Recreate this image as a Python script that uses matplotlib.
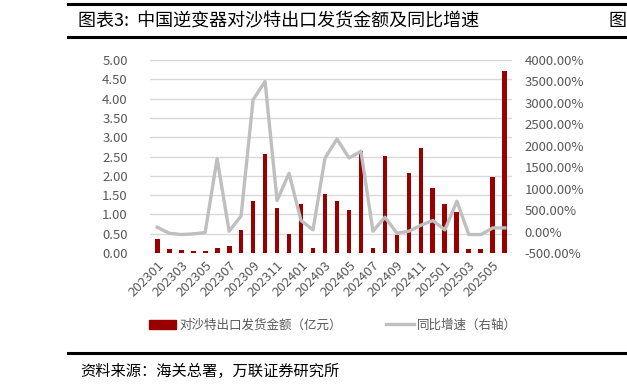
import numpy as np
import matplotlib.pyplot as plt
from matplotlib.patches import Patch
from matplotlib.lines import Line2D

plt.rcParams['font.family'] = ['Noto Sans CJK SC', 'DejaVu Sans']

# 2023-01 .. 2025-06
months = [f"{y}{m:02d}" for y in (2023, 2024, 2025) for m in range(1, 13)][:30]
amount = [0.36, 0.10, 0.09, 0.05, 0.05, 0.14, 0.19, 0.59, 1.35, 2.57,
          1.16, 0.48, 1.26, 0.12, 1.54, 1.36, 1.12, 2.65, 0.14, 2.52,
          0.47, 2.06, 2.71, 1.69, 1.26, 1.07, 0.10, 0.11, 1.97, 4.72]
yoy = [101, -39, -70, -54, -23, 1700, 8, 365, 3075, 3500,
       722, 1359, 256, 39, 1716, 2158, 1716, 1871, 8, 334,
       -39, 8, 148, 256, 39, 707, -70, -70, 85, 85]

red = '#990000'
grey = '#BFBFBF'
txt = '#595959'

fig = plt.figure(figsize=(6.27, 3.89), dpi=100)
ax = fig.add_axes([150 / 627, 1 - 253 / 389, 362 / 627, 193 / 389])
ax2 = ax.twinx()

x = np.arange(len(months))
ax.bar(x, amount, width=0.4, color=red, zorder=3)
ax2.plot(x, yoy, color=grey, lw=2.4, zorder=4)

ax.set_ylim(0, 5)
ax.set_yticks(np.arange(0, 5.01, 0.5))
ax.set_yticklabels([f"{v:.2f}" for v in np.arange(0, 5.01, 0.5)])
ax.grid(axis='y', color='#D9D9D9', lw=1, zorder=0)
ax.set_axisbelow(True)
ax.set_xlim(-0.6, len(months) - 0.4)
ax.set_xticks(x[::2])
ax.set_xticklabels(months[::2], rotation=45, ha='right', rotation_mode='anchor')

ax2.set_ylim(-500, 4000)
ax2.set_yticks(np.arange(-500, 4001, 500))
ax2.set_yticklabels([f"{v:.2f}%" for v in np.arange(-500, 4001, 500)])

for a in (ax, ax2):
    for s in a.spines.values():
        s.set_visible(False)
    a.tick_params(length=0, colors=txt, labelsize=9.5)
ax.tick_params(axis='y', pad=16)
ax.tick_params(axis='x', pad=4)
ax2.tick_params(axis='y', pad=9)

handles = [Patch(color=red), Line2D([0], [0], color=grey, lw=2.4)]
fig.legend(handles, ['对沙特出口发货金额（亿元）', '同比增速（右轴）'],
           loc='center', bbox_to_anchor=(333 / 627, 1 - 325 / 389), ncol=2,
           frameon=False, fontsize=9, labelcolor=txt, handlelength=2.2,
           columnspacing=3.5, handletextpad=0.3)

# header / footer rules
fig.add_artist(Line2D([68 / 627, 1], [1 - 4 / 389] * 2, color='black', lw=2.2))
fig.add_artist(Line2D([68 / 627, 1], [1 - 37 / 389] * 2, color='black', lw=2.2))
fig.add_artist(Line2D([68 / 627, 1], [1 - 353 / 389] * 2, color='black', lw=2.2))
fig.text(78 / 627, 1 - 21 / 389, '图表3:  中国逆变器对沙特出口发货金额及同比增速',
         fontsize=13, va='center', ha='left')
fig.text(626 / 627, 1 - 21 / 389, '图', fontsize=13, va='center', ha='right')
fig.text(80 / 627, 1 - 371 / 389, '资料来源：海关总署，万联证券研究所',
         fontsize=11, va='center', ha='left', style='italic')

fig.savefig('out.png', dpi=100)
